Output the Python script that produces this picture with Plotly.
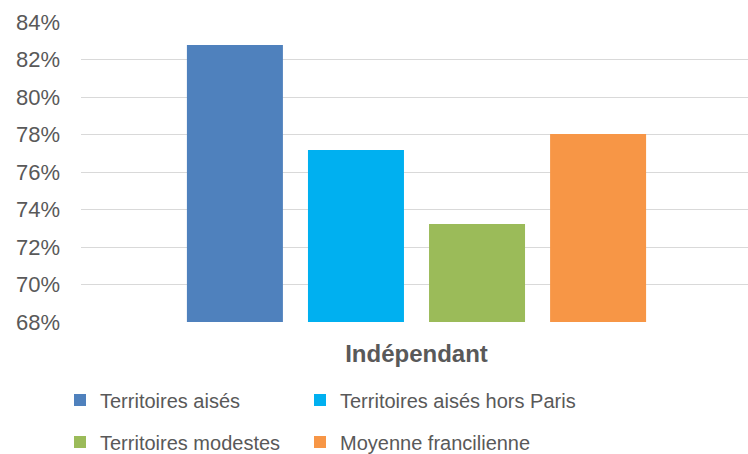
import plotly.graph_objects as go

categories = ["Indépendant"]
series_names = ["Territoires aisés", "Territoires aisés hors Paris",
                "Territoires modestes", "Moyenne francilienne"]
series_values = [[82.77], [77.17], [73.23], [78.03]]
colors = ["#4f81bd", "#00b0f0", "#9bbb59", "#f79646"]
y_ticks = [68, 70, 72, 74, 76, 78, 80, 82, 84]
y_ticklabels = [f"{v}%" for v in y_ticks]

legend_ids = ["legend", "legend2", "legend3", "legend4"]

fig = go.Figure()
for i, (name, vals, col) in enumerate(zip(series_names, series_values, colors)):
    fig.add_trace(go.Bar(
        x=categories, y=vals, name=name, marker=dict(color=col, line=dict(width=0)),
        legend=legend_ids[i], showlegend=True,
    ))

font = "Liberation Sans, Arial, sans-serif"
leg_common = dict(orientation="h", xref="container", yref="container",
                  xanchor="left", yanchor="middle", itemwidth=30,
                  font=dict(family=font, size=20, color="#595959"),
                  bgcolor="rgba(0,0,0,0)")
col_x = [60, 300]
row_y = [400, 442]
legends = {}
for i, lid in enumerate(legend_ids):
    legends[lid] = dict(leg_common, x=col_x[i % 2] / 748, y=1 - row_y[i // 2] / 454)

fig.update_layout(
    width=748, height=454, showlegend=True,
    margin=dict(l=81, r=0, t=22, b=132, autoexpand=False),
    paper_bgcolor="white", plot_bgcolor="white",
    barmode="group", bargap=0.274, bargroupgap=0.207,
    font=dict(family=font, size=18, color="#595959"),
    xaxis=dict(
        range=[-0.503, 0.497], tickvals=categories,
        ticktext=["<b>" + c + "</b>" for c in categories],
        showgrid=False, zeroline=False, showline=False, ticks="",
        ticklabelstandoff=15,
        tickfont=dict(family=font, size=24, color="#595959"),
    ),
    yaxis=dict(
        range=[68, 84], tickvals=y_ticks, ticktext=y_ticklabels,
        showgrid=True, gridcolor="#d9d9d9", gridwidth=1.3,
        zeroline=False, showline=False, ticks="",
        ticklabelstandoff=20,
        tickfont=dict(family=font, size=22, color="#595959"),
    ),
    **legends,
)

fig.write_html("out.html")
